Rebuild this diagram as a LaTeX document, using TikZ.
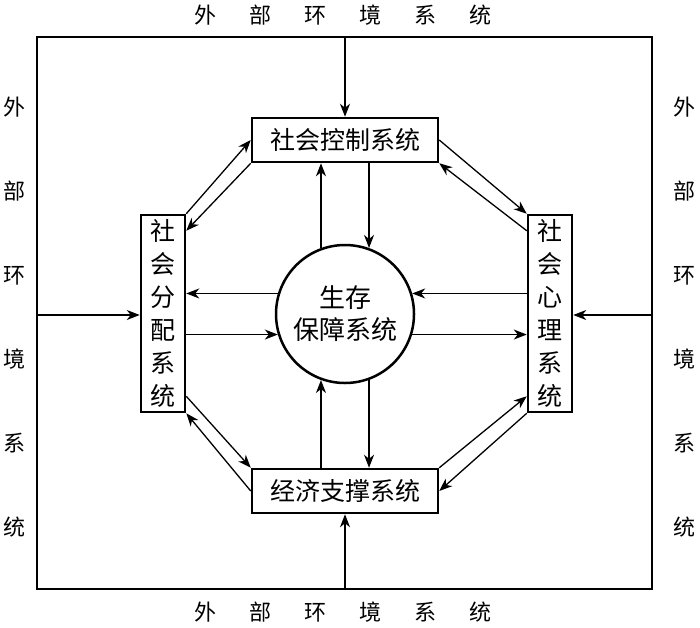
\documentclass[tikz,border=0pt]{standalone}
\usepackage{fontspec}
\newfontfamily\cjk{Noto Sans CJK SC}
\usetikzlibrary{arrows.meta,calc}
\begin{document}
\begin{tikzpicture}[x=1pt,y=-1pt,
  sysbox/.style={draw, line width=2.5pt, inner sep=0pt, align=center, font=\cjk\fontsize{25}{33}\selectfont},
  hbox/.style={sysbox, minimum width=186pt, minimum height=44pt},
  vbox/.style={sysbox, minimum width=44pt, minimum height=197pt},
  conn/.style={line width=1.3pt, -{Stealth[length=13pt,width=10pt,inset=4pt]}},
  outerlbl/.style={inner sep=0pt, align=center, font=\cjk\fontsize{22}{84}\selectfont}]
\useasboundingbox (0,0) rectangle (700,627);
\draw[line width=1.4pt] (37,37) rectangle (652,589);
% labels of the outer environment
\node[outerlbl] (lt) at (343,15) {外\hspace{33pt}部\hspace{33pt}环\hspace{33pt}境\hspace{33pt}系\hspace{33pt}统};
\node[outerlbl] (lb) at (343,612) {外\hspace{33pt}部\hspace{33pt}环\hspace{33pt}境\hspace{33pt}系\hspace{33pt}统};
\node[outerlbl] (ll) at (14,317) {外\\部\\环\\境\\系\\统};
\node[outerlbl] (lr) at (684,317) {外\\部\\环\\境\\系\\统};
% systems
\node[hbox] (ctrl) at (345,140) {社会控制系统};
\node[hbox] (econ) at (345,491) {经济支撑系统};
\node[vbox] (dist) at (163,313.5) {社\\会\\分\\配\\系\\统};
\node[vbox] (psy) at (550,313.5) {社\\会\\心\\理\\系\\统};
\node[circle, draw, line width=2.5pt, minimum size=138pt, inner sep=0pt, align=center,
      font=\cjk\fontsize{26}{32}\selectfont] (core) at (345,314) {生存\\保障系统};
% outer inputs
\coordinate (oT) at (345,37);
\coordinate (oB) at (345,589);
\coordinate (oL) at (37,315);
\coordinate (oR) at (652,315);
\draw[conn] (oT) -- (ctrl.north);
\draw[conn] (oB) -- (econ.south);
\draw[conn] (oL) -- (oL -| dist.west);
\draw[conn] (oR) -- (oR -| psy.east);
% core links
\draw[conn] (core.163) -- (core.163 -| dist.east);
\draw[conn] (core.197 -| dist.east) -- (core.197);
\draw[conn] (core.17 -| psy.west) -- (core.17);
\draw[conn] (core.-17) -- (core.-17 -| psy.west);
\draw[conn] (core.110) -- (core.110 |- ctrl.south);
\draw[conn] (core.70 |- ctrl.south) -- (core.70);
\draw[conn] (core.250 |- econ.north) -- (core.250);
\draw[conn] (core.290) -- (core.290 |- econ.north);
% ring links
\draw[conn] (dist.north east) -- (ctrl.west);
\draw[conn] (ctrl.south west) -- ($(dist.north east)+(0,17)$);
\draw[conn] (ctrl.east) -- (psy.north west);
\draw[conn] ($(psy.north west)+(0,17)$) -- (ctrl.south east);
\draw[conn] ($(dist.south east)+(0,-17)$) -- (econ.north west);
\draw[conn] (econ.west) -- (dist.south east);
\draw[conn] (econ.north east) -- ($(psy.south west)+(0,-17)$);
\draw[conn] (psy.south west) -- (econ.east);
\end{tikzpicture}
\end{document}
